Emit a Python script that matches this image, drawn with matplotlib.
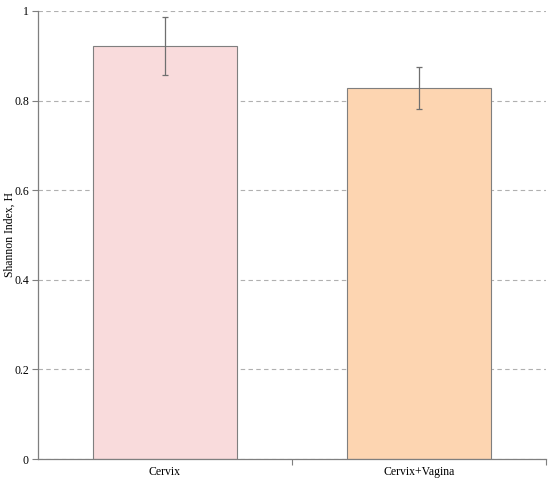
import matplotlib.pyplot as plt

plt.rcParams['font.family'] = ['Liberation Serif', 'DejaVu Serif']

# data
sites = ['Cervix', 'Cervix+Vagina']
shannon = [0.922, 0.828]
err = [0.065, 0.047]
colors = ['#F9DBDC', '#FDD5B1']

fig = plt.figure(figsize=(5.5, 4.82), dpi=100)
ax = fig.add_axes([0.0691, 0.0477, 0.9236, 0.9295])

x = range(len(sites))
ax.bar(x, shannon, width=0.567, color=colors, edgecolor='#7f7f7f', linewidth=0.8, zorder=2)
ax.errorbar(x, shannon, yerr=err, fmt='none', ecolor='#6f6f6f', elinewidth=0.9,
            capsize=2, capthick=0.9, zorder=3)

ax.set_xlim(-0.5, 1.5)
ax.set_ylim(0, 1)
ax.set_yticks([0, 0.2, 0.4, 0.6, 0.8, 1])
ax.set_yticklabels(['0', '0.2', '0.4', '0.6', '0.8', '1'], fontsize=8.5)
ax.yaxis.grid(True, linestyle=(0, (4, 3)), color='#b0b0b0', linewidth=0.8, zorder=0)
ax.set_axisbelow(True)

# category labels between boundary ticks
ax.set_xticks([0.5, 1.5])
ax.set_xticklabels(['', ''])
ax.set_xticks(list(x), minor=True)
ax.set_xticklabels(sites, minor=True, fontsize=8.5)
ax.tick_params(axis='x', which='minor', length=0, pad=5)
ax.tick_params(axis='x', which='major', length=4, color='#7f7f7f')
ax.tick_params(axis='y', length=4, color='#7f7f7f', pad=2.5)

ax.set_ylabel('Shannon Index, H', fontsize=8.5)
ax.yaxis.set_label_coords(-0.044, 0.5)

for s in ['top', 'right']:
    ax.spines[s].set_visible(False)
for s in ['left', 'bottom']:
    ax.spines[s].set_color('#7f7f7f')
    ax.spines[s].set_linewidth(0.9)

fig.savefig('out.png', dpi=100)
